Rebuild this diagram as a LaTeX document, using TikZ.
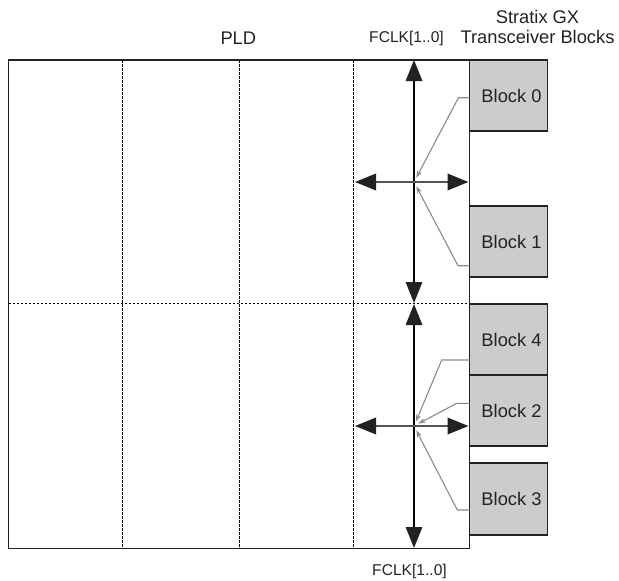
\documentclass[tikz,border=0pt]{standalone}
\usepackage{fontspec}
\setmainfont{Liberation Sans}
\usetikzlibrary{arrows.meta}
\definecolor{blkfill}{HTML}{CCCCCC}
\definecolor{ptr}{HTML}{8A8A8A}
\definecolor{dk}{HTML}{222222}
\definecolor{hl}{HTML}{555555}
\begin{document}
\begin{tikzpicture}[x=1pt,y=-1pt,
  lbl/.style={font=\fontsize{18.3}{20}\selectfont, text height=13.1pt, text depth=0pt, inner sep=0pt, text=dk},
  clk/.style={font=\fontsize{15.6}{18}\selectfont, text height=11.2pt, text depth=0pt, inner sep=0pt, text=dk},
  frame/.style={draw=dk, line width=1.3pt, inner sep=0pt, outer sep=0pt, anchor=north west},
  blk/.style={draw=dk, fill=blkfill, line width=1.3pt, inner sep=0pt, outer sep=0pt, anchor=north west, minimum width=78pt},
  dsh/.style={draw=black, line width=1.2pt, dash pattern=on 2.8pt off 1.2pt},
  varr/.style={draw=black, line width=1.2pt, {Triangle[length=21pt,width=16.5pt,fill=dk,color=dk]}-{Triangle[length=21pt,width=16.5pt,fill=dk,color=dk]}},
  harr/.style={draw=hl, line width=1.9pt, {Triangle[length=21pt,width=16.5pt,fill=dk,color=dk]}-{Triangle[length=21pt,width=16.5pt,fill=dk,color=dk]}},
  ptrl/.style={draw=ptr, line width=1.1pt, -{Stealth[length=7pt,width=5pt]}, shorten >=5pt}
]
\useasboundingbox (0,0) rectangle (619,581);

% PLD frame
\node[frame, minimum width=461pt, minimum height=488.5pt] (pld) at (8.5,60) {};

% dashed column/row lines
\draw[dsh] (122.7,60) -- (122.7,548.5);
\draw[dsh] (239.3,60) -- (239.3,548.5);
\draw[dsh] (353.8,60) -- (353.8,548.5);
\draw[dsh] (8.5,303.5) -- (469.5,303.5);

% transceiver blocks
\node[blk, minimum height=71pt, label={[lbl, xshift=3pt]center:Block 0}] (b0) at (469.5,60) {};
\node[blk, minimum height=71pt, label={[lbl, xshift=3pt]center:Block 1}] (b1) at (469.5,206) {};
\node[blk, minimum height=71pt, label={[lbl, xshift=3pt]center:Block 4}] (b4) at (469.5,304) {};
\node[blk, minimum height=71pt, label={[lbl, xshift=3pt]center:Block 2}] (b2) at (469.5,375) {};
\node[blk, minimum height=72pt, label={[lbl, xshift=3pt]center:Block 3}] (b3) at (469.5,463) {};

% labels
\node[lbl] (pldlbl) at (238.3,38.3) {PLD};
\node[clk] (fclkt) at (406.5,37.2) {FCLK[1..0]};
\node[clk] (fclkb) at (409.5,570) {FCLK[1..0]};
\node[lbl] (sgx) at (537.5,16.5) {Stratix GX};
\node[lbl] (tbl) at (537.5,37) {Transceiver Blocks};

% crossing points and arrow ends
\coordinate (c1) at (414,182);
\coordinate (c2) at (414,426);
\coordinate (v1t) at (414,60);
\coordinate (v1b) at (414,303);
\coordinate (v2t) at (414,304);
\coordinate (v2b) at (414,548);
\coordinate (h1l) at (355,182);
\coordinate (h1r) at (468.5,182);
\coordinate (h2l) at (355,426);
\coordinate (h2r) at (468.5,426);

% gray pointers from blocks
\draw[ptrl] ([yshift=-2.2pt]b0.west) -- ++(-11,0) -- (c1);
\draw[ptrl] ([yshift=-24.2pt]b1.west) -- ++(-11.5,0) -- (c1);
\draw[ptrl] ([yshift=-20.5pt]b4.west) -- ++(-27.8,0) -- (c2);
\draw[ptrl] ([yshift=7.2pt]b2.west) -- ++(-12.8,0) -- (c2);
\draw[ptrl] ([yshift=-11pt]b3.west) -- ++(-12.2,0) -- (c2);

% FCLK arrows
\draw[varr] (v1t) -- (v1b);
\draw[varr] (v2t) -- (v2b);
\draw[harr] (h1l) -- (h1r);
\draw[harr] (h2l) -- (h2r);
\end{tikzpicture}
\end{document}
